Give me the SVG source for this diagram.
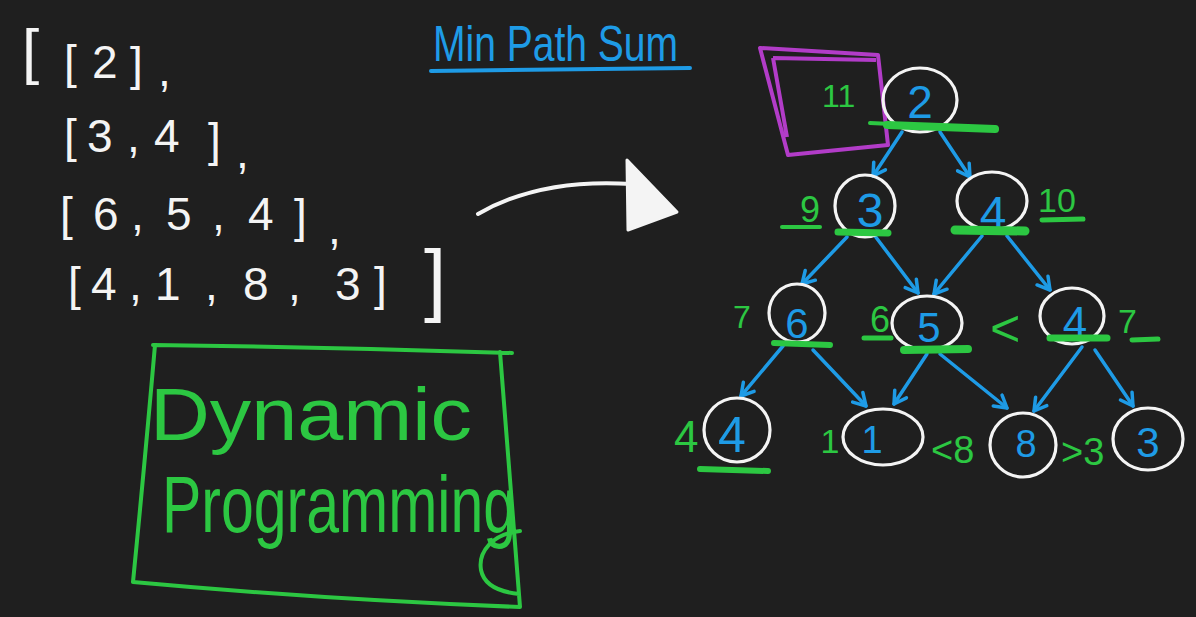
<svg xmlns="http://www.w3.org/2000/svg" width="1196" height="617" viewBox="0 0 1196 617">
<style>
.w{fill:#f4f4f4;font-family:"Liberation Sans",Arial,sans-serif;font-size:46px}
.g{fill:#2cc742;font-family:"Liberation Sans",Arial,sans-serif}
.bd{fill:#1e9be6;font-family:"Liberation Sans",Arial,sans-serif;text-anchor:middle}
.nc{fill:none;stroke:#f4f4f4;stroke-width:3.2}
.ul{stroke:#2cc742;stroke-linecap:round;fill:none}
.ed{stroke:#1e9be6;stroke-width:3.5;stroke-linecap:round;fill:none;marker-end:url(#ah)}
</style>
<defs>
<marker id="ah" viewBox="0 0 18 18" refX="15" refY="9" markerWidth="18" markerHeight="18" orient="auto" markerUnits="userSpaceOnUse">
<path d="M3,2 L15,9 L3,16" fill="none" stroke="#1e9be6" stroke-width="3.5" stroke-linecap="round" stroke-linejoin="round"/>
</marker>
</defs>
<rect width="1196" height="617" fill="#1f1f1f"/>

<g id="list">
<text class="w"><tspan x="22" y="72" font-size="62">[</tspan><tspan x="64 92 130 158" y="78 78 80 86">[2],</tspan></text>
<text class="w" x="64 87 127 140 154 208 236" y="152 152 152 152 152 156 168">[3, 4],</text>
<text class="w" x="60 93 131 145 166 212 226 248 294 328" y="230 230 230 230 230 230 230 230 232 244">[6, 5, 4],</text>
<text class="w"><tspan x="68 91 129 140 155 205 215 243 288 298 335 374" y="300">[4, 1, 8, 3]</tspan><tspan x="424" y="306" font-size="80">]</tspan></text>
</g>

<g id="title">
<text x="433" y="61" font-size="50" textLength="245" lengthAdjust="spacingAndGlyphs" fill="#1e9be6" font-family="Liberation Sans, Arial, sans-serif">Min Path Sum</text>
<path d="M431,71 L690,68" stroke="#1e9be6" stroke-width="4" stroke-linecap="round"/>
</g>

<g id="big-arrow">
<path d="M478,214 Q540,178 632,184" stroke="#f4f4f4" stroke-width="4" fill="none" stroke-linecap="round"/>
<polygon points="627,160 677,212 628,230" fill="#f4f4f4" stroke="#f4f4f4" stroke-width="3" stroke-linejoin="round"/>
</g>

<g id="dp-box">
<path d="M153,345 Q330,347 512,353 M500,352 Q510,480 520,607 M133,582 Q330,600 520,607 M155,345 Q145,460 133,582 M520,531 C492,534 478,552 481,570 C484,585 500,592 519,594" class="ul" stroke-width="4"/>
<text class="g" x="150" y="440" font-size="74" textLength="322" lengthAdjust="spacingAndGlyphs">Dynamic</text>
<text class="g" x="162" y="532" font-size="80" textLength="354" lengthAdjust="spacingAndGlyphs">Programming</text>
</g>

<g id="connectors">
<path class="ed" d="M902,132 L873,176"/>
<path class="ed" d="M940,132 L970,177"/>
<path class="ed" d="M847,237 L802,284"/>
<path class="ed" d="M875,236 L918,293"/>
<path class="ed" d="M982,236 L934,294"/>
<path class="ed" d="M1007,236 L1050,290"/>
<path class="ed" d="M783,346 L741,396"/>
<path class="ed" d="M813,350 L866,406"/>
<path class="ed" d="M927,354 L894,404"/>
<path class="ed" d="M940,354 L1007,408"/>
<path class="ed" d="M1082,347 L1034,411"/>
<path class="ed" d="M1095,350 L1133,406"/>
</g>

<g id="node-r1-2">
<path d="M760,48 L878,55 L888,145 L788,155 Z M773,58 L876,60 M773,58 L787,137" fill="none" stroke="#b23cc8" stroke-width="4" stroke-linejoin="round"/>
<text class="g" x="822" y="107" font-size="32">11</text>
<ellipse class="nc" cx="920" cy="100" rx="37" ry="32"/>
<text class="bd" x="920" y="118" font-size="46">2</text>
<path class="ul" d="M870,123 L997,129" stroke-width="4"/>
<path class="ul" d="M887,125 L995,129" stroke-width="8"/>
</g>

<g id="node-r2-3">
<ellipse class="nc" cx="865" cy="206" rx="30" ry="31"/>
<text class="bd" x="870" y="227" font-size="48">3</text>
<text class="g" x="800" y="222" font-size="36">9</text>
<path class="ul" d="M782,227 L820,227" stroke-width="4"/>
<path class="ul" d="M838,232 L888,233" stroke-width="7"/>
</g>

<g id="node-r2-4">
<ellipse class="nc" cx="992" cy="201" rx="35" ry="29"/>
<text class="bd" x="993" y="230" font-size="48">4</text>
<path class="ul" d="M955,230 L1025,231" stroke-width="9"/>
<text class="g" x="1038" y="212" font-size="34">10</text>
<path class="ul" d="M1042,220 L1083,219" stroke-width="5"/>
</g>

<g id="node-r3-6">
<ellipse class="nc" cx="797" cy="313" rx="28" ry="29"/>
<text class="bd" x="797" y="338" font-size="42">6</text>
<text class="g" x="733" y="328" font-size="32">7</text>
<path class="ul" d="M774,343 L830,345" stroke-width="6"/>
</g>

<g id="node-r3-5">
<ellipse class="nc" cx="927" cy="323" rx="35" ry="27"/>
<text class="bd" x="929" y="342" font-size="42">5</text>
<text class="g" x="870" y="332" font-size="36">6</text>
<path class="ul" d="M864,338 L891,338" stroke-width="5"/>
<path class="ul" d="M904,350 L968,349" stroke-width="8"/>
</g>

<g id="node-r3-4">
<ellipse class="nc" cx="1072" cy="316" rx="32" ry="28"/>
<text class="bd" x="1075" y="338" font-size="44">4</text>
<text class="g" x="990" y="346" font-size="52">&lt;</text>
<path class="ul" d="M1050,338 L1107,338" stroke-width="7"/>
<text class="g" x="1118" y="333" font-size="34">7</text>
<path class="ul" d="M1132,340 L1158,339" stroke-width="5"/>
</g>

<g id="node-r4-4">
<ellipse class="nc" cx="737" cy="430" rx="33" ry="32"/>
<text class="bd" x="732" y="452" font-size="50">4</text>
<text class="g" x="674" y="452" font-size="44">4</text>
<path class="ul" d="M700,469 L768,471" stroke-width="6"/>
</g>

<g id="node-r4-1">
<ellipse class="nc" cx="883" cy="437" rx="40" ry="28"/>
<text class="bd" x="872" y="453" font-size="38">1</text>
<text class="g" x="830" y="453" font-size="34" text-anchor="middle">1</text>
</g>

<g id="node-r4-8">
<text class="g" x="931" y="463" font-size="38">&lt;8</text>
<ellipse class="nc" cx="1023" cy="445" rx="33" ry="32"/>
<text class="bd" x="1026" y="457" font-size="38">8</text>
<text class="g" x="1061" y="465" font-size="38">&gt;3</text>
</g>

<g id="node-r4-3">
<ellipse class="nc" cx="1148" cy="439" rx="35" ry="31"/>
<text class="bd" x="1148" y="457" font-size="42">3</text>
</g>
</svg>
